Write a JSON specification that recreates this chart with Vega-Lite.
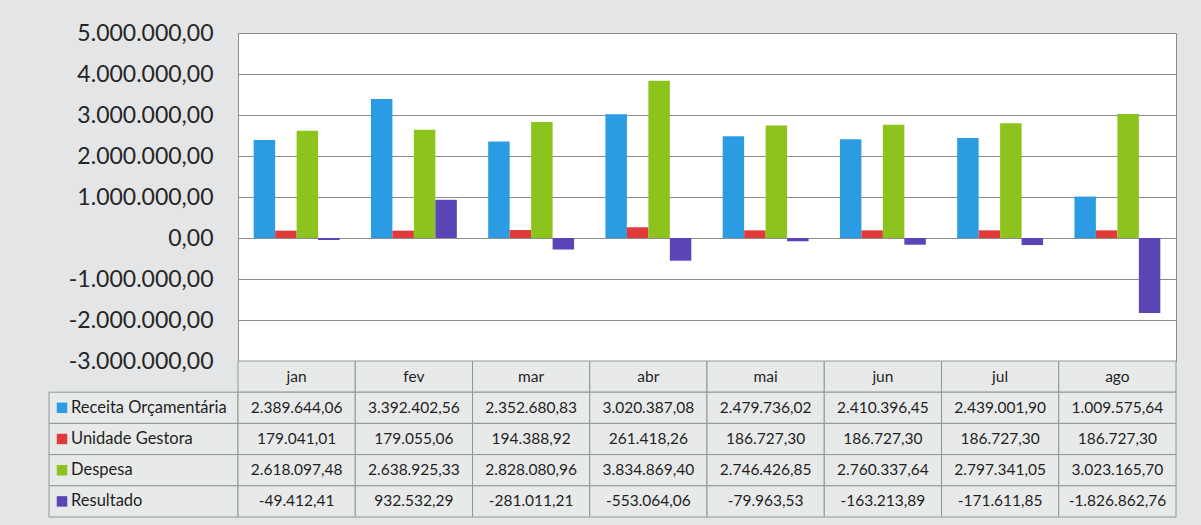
{
  "$schema": "https://vega.github.io/schema/vega-lite/v6.json",
  "background": "#e3e5e7",
  "padding": {"left": 48, "top": 21, "right": 26, "bottom": 8},
  "config": {
    "locale": {"number": {"decimal": ",", "thousands": ".", "grouping": [3], "currency": ["R$ ", ""], "minus": "-"}},
    "font": "Lato",
    "view": {"stroke": null}
  },
  "datasets": {
    "valores": [
      {"mes": "jan", "serie": "Receita Orçamentária", "valor": 2389644.06},
      {"mes": "jan", "serie": "Unidade Gestora", "valor": 179041.01},
      {"mes": "jan", "serie": "Despesa", "valor": 2618097.48},
      {"mes": "jan", "serie": "Resultado", "valor": -49412.41},
      {"mes": "fev", "serie": "Receita Orçamentária", "valor": 3392402.56},
      {"mes": "fev", "serie": "Unidade Gestora", "valor": 179055.06},
      {"mes": "fev", "serie": "Despesa", "valor": 2638925.33},
      {"mes": "fev", "serie": "Resultado", "valor": 932532.29},
      {"mes": "mar", "serie": "Receita Orçamentária", "valor": 2352680.83},
      {"mes": "mar", "serie": "Unidade Gestora", "valor": 194388.92},
      {"mes": "mar", "serie": "Despesa", "valor": 2828080.96},
      {"mes": "mar", "serie": "Resultado", "valor": -281011.21},
      {"mes": "abr", "serie": "Receita Orçamentária", "valor": 3020387.08},
      {"mes": "abr", "serie": "Unidade Gestora", "valor": 261418.26},
      {"mes": "abr", "serie": "Despesa", "valor": 3834869.40},
      {"mes": "abr", "serie": "Resultado", "valor": -553064.06},
      {"mes": "mai", "serie": "Receita Orçamentária", "valor": 2479736.02},
      {"mes": "mai", "serie": "Unidade Gestora", "valor": 186727.30},
      {"mes": "mai", "serie": "Despesa", "valor": 2746426.85},
      {"mes": "mai", "serie": "Resultado", "valor": -79963.53},
      {"mes": "jun", "serie": "Receita Orçamentária", "valor": 2410396.45},
      {"mes": "jun", "serie": "Unidade Gestora", "valor": 186727.30},
      {"mes": "jun", "serie": "Despesa", "valor": 2760337.64},
      {"mes": "jun", "serie": "Resultado", "valor": -163213.89},
      {"mes": "jul", "serie": "Receita Orçamentária", "valor": 2439001.90},
      {"mes": "jul", "serie": "Unidade Gestora", "valor": 186727.30},
      {"mes": "jul", "serie": "Despesa", "valor": 2797341.05},
      {"mes": "jul", "serie": "Resultado", "valor": -171611.85},
      {"mes": "ago", "serie": "Receita Orçamentária", "valor": 1009575.64},
      {"mes": "ago", "serie": "Unidade Gestora", "valor": 186727.30},
      {"mes": "ago", "serie": "Despesa", "valor": 3023165.70},
      {"mes": "ago", "serie": "Resultado", "valor": -1826862.76}
    ],
    "meses": [
      {"mes": "jan"}, {"mes": "fev"}, {"mes": "mar"}, {"mes": "abr"},
      {"mes": "mai"}, {"mes": "jun"}, {"mes": "jul"}, {"mes": "ago"}
    ],
    "series": [
      {"serie": "Receita Orçamentária"},
      {"serie": "Unidade Gestora"},
      {"serie": "Despesa"},
      {"serie": "Resultado"}
    ]
  },
  "columns": 2,
  "spacing": 0,
  "bounds": "flush",
  "concat": [
    {
      "width": 189,
      "height": 328,
      "data": {"values": [{"t": ""}]},
      "mark": {"type": "text"},
      "encoding": {"text": {"field": "t"}}
    },
    {
      "width": 938,
      "height": 328,
      "data": {"name": "valores"},
      "view": {"stroke": "#8c8c8c", "fill": "white"},
      "mark": {"type": "bar"},
      "encoding": {
        "x": {
          "field": "mes", "type": "nominal",
          "sort": ["jan", "fev", "mar", "abr", "mai", "jun", "jul", "ago"],
          "scale": {"paddingInner": 0, "paddingOuter": 0},
          "axis": null
        },
        "xOffset": {
          "field": "serie", "type": "nominal",
          "sort": ["Receita Orçamentária", "Unidade Gestora", "Despesa", "Resultado"],
          "scale": {"paddingInner": 0, "paddingOuter": 0.73}
        },
        "y": {
          "field": "valor", "type": "quantitative",
          "scale": {"domain": [-3000000, 5000000], "nice": false, "zero": true},
          "axis": {
            "values": [-3000000, -2000000, -1000000, 0, 1000000, 2000000, 3000000, 4000000, 5000000],
            "format": ",.2f",
            "title": null,
            "ticks": false,
            "domain": false,
            "labelFontSize": 23,
            "labelColor": "#262626",
            "labelPadding": 25,
            "gridColor": "#8c8c8c",
            "gridOpacity": 1,
            "gridWidth": 1
          }
        },
        "color": {
          "field": "serie", "type": "nominal",
          "scale": {
            "domain": ["Receita Orçamentária", "Unidade Gestora", "Despesa", "Resultado"],
            "range": ["#2b9ce4", "#e03a3a", "#8cc31c", "#5a44b6"]
          },
          "legend": null
        }
      }
    },
    {
      "width": 189,
      "height": 156,
      "data": {"name": "series"},
      "encoding": {
        "y": {
          "field": "serie", "type": "nominal",
          "scale": {"domain": ["cab", "Receita Orçamentária", "Unidade Gestora", "Despesa", "Resultado"], "paddingInner": 0, "paddingOuter": 0},
          "axis": null
        }
      },
      "layer": [
        {"mark": {"type": "rect", "fill": "#e8eaea", "stroke": "#8f9796", "strokeWidth": 1}},
        {
          "mark": {"type": "point", "shape": "square", "filled": true, "size": 110, "opacity": 1},
          "encoding": {
            "x": {"value": 13},
            "color": {
              "field": "serie", "type": "nominal",
              "scale": {
                "domain": ["Receita Orçamentária", "Unidade Gestora", "Despesa", "Resultado"],
                "range": ["#2b9ce4", "#e03a3a", "#8cc31c", "#5a44b6"]
              },
              "legend": null
            }
          }
        },
        {
          "mark": {"type": "text", "align": "left", "fontSize": 16.5, "color": "#1f1f1f"},
          "encoding": {"x": {"value": 22}, "text": {"field": "serie"}}
        }
      ]
    },
    {
      "width": 938,
      "height": 156,
      "encoding": {
        "x": {
          "field": "mes", "type": "nominal",
          "sort": ["jan", "fev", "mar", "abr", "mai", "jun", "jul", "ago"],
          "scale": {"paddingInner": 0, "paddingOuter": 0},
          "axis": null
        }
      },
      "layer": [
        {
          "data": {"name": "meses"},
          "mark": {"type": "rect", "fill": "#e8eaea", "stroke": "#8f9796", "strokeWidth": 1},
          "encoding": {
            "y": {
              "datum": "cab", "type": "nominal",
              "scale": {"domain": ["cab", "Receita Orçamentária", "Unidade Gestora", "Despesa", "Resultado"], "paddingInner": 0, "paddingOuter": 0},
              "axis": null
            }
          }
        },
        {
          "data": {"name": "meses"},
          "mark": {"type": "text", "fontSize": 15.5, "color": "#1f1f1f"},
          "encoding": {
            "y": {"datum": "cab", "type": "nominal"},
            "text": {"field": "mes"}
          }
        },
        {
          "data": {"name": "valores"},
          "mark": {"type": "rect", "fill": "#e8eaea", "stroke": "#8f9796", "strokeWidth": 1},
          "encoding": {"y": {"field": "serie", "type": "nominal"}}
        },
        {
          "data": {"name": "valores"},
          "mark": {"type": "text", "fontSize": 15.5, "color": "#1f1f1f"},
          "encoding": {
            "y": {"field": "serie", "type": "nominal"},
            "text": {"field": "valor", "type": "quantitative", "format": ",.2f"}
          }
        }
      ]
    }
  ]
}
